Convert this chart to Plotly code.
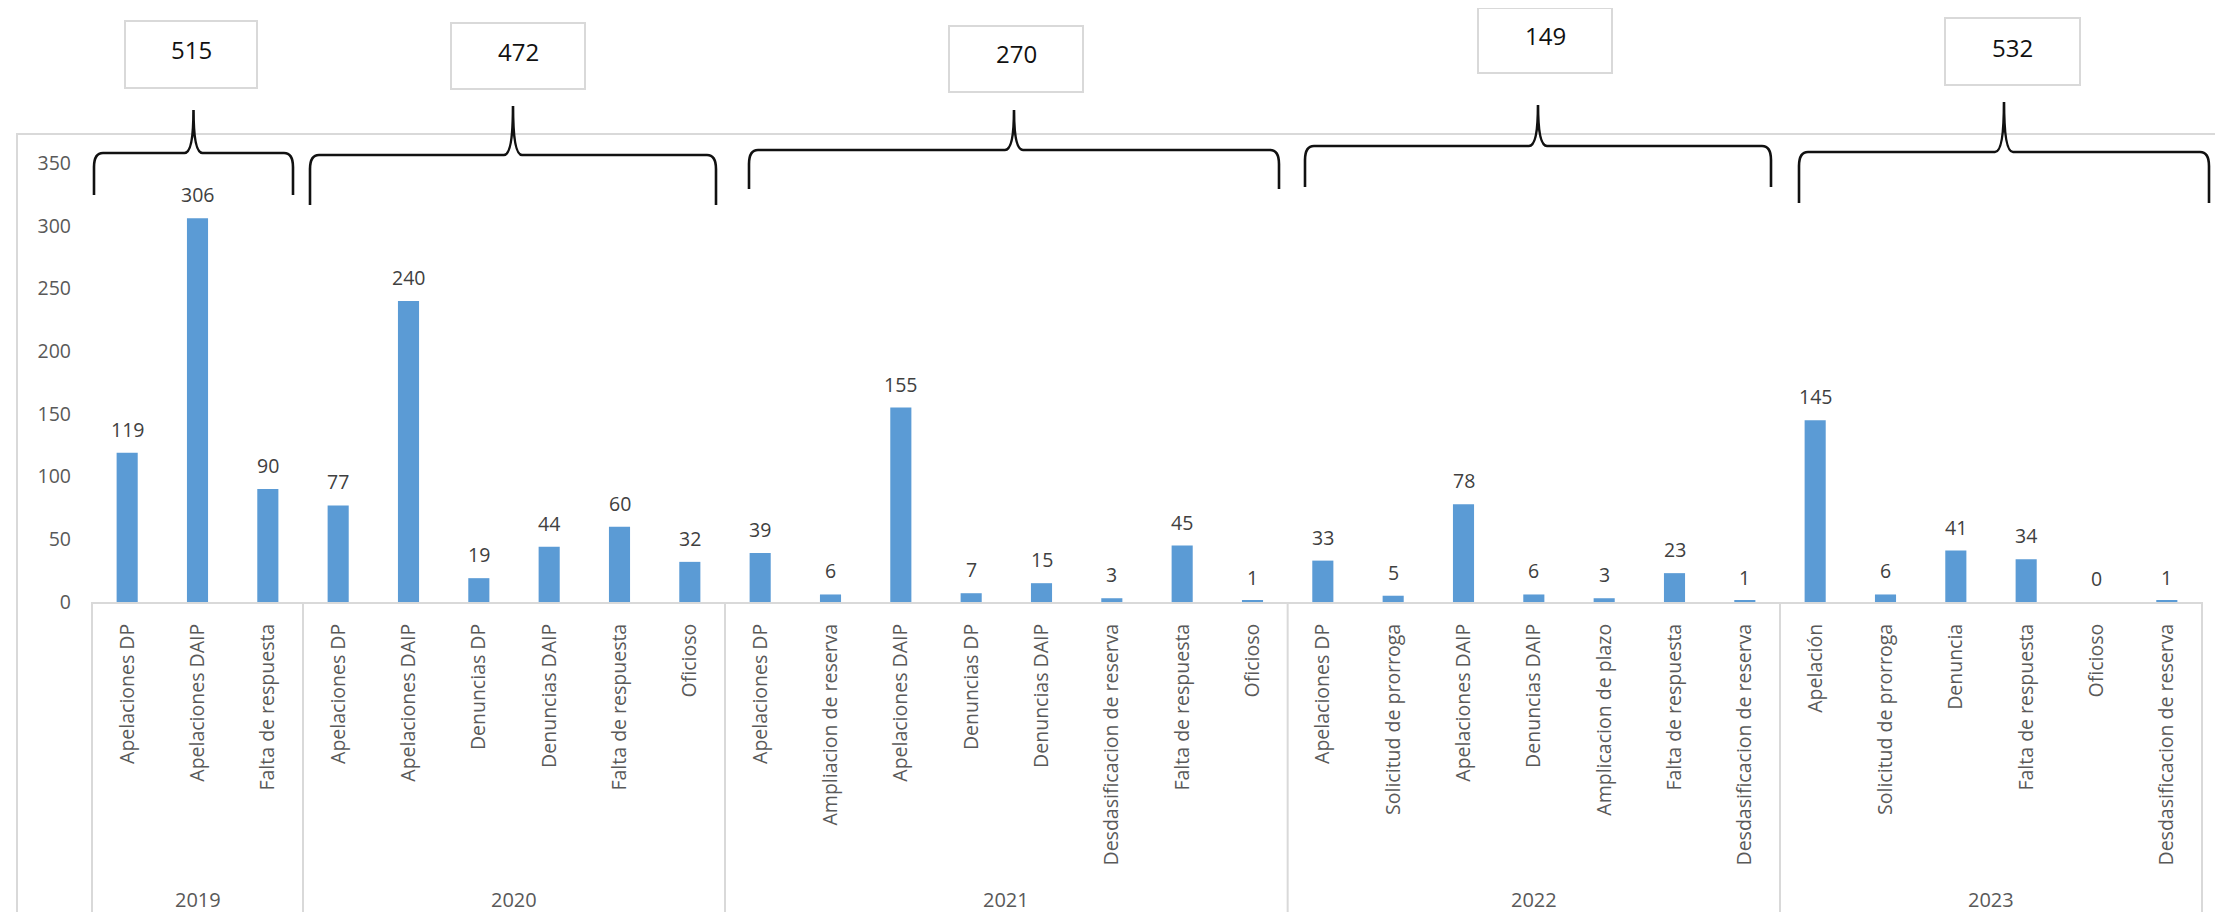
import plotly.graph_objects as go

# ---------------- data ----------------
years = ["2019", "2020", "2021", "2022", "2023"]
cats_2019 = ["Apelaciones DP", "Apelaciones DAIP", "Falta de respuesta"]
vals_2019 = [119, 306, 90]
cats_2020 = ["Apelaciones DP", "Apelaciones DAIP", "Denuncias DP", "Denuncias DAIP",
             "Falta de respuesta", "Oficioso"]
vals_2020 = [77, 240, 19, 44, 60, 32]
cats_2021 = ["Apelaciones DP", "Ampliacion de reserva", "Apelaciones DAIP", "Denuncias DP",
             "Denuncias DAIP", "Desdasificacion de reserva", "Falta de respuesta", "Oficioso"]
vals_2021 = [39, 6, 155, 7, 15, 3, 45, 1]
cats_2022 = ["Apelaciones DP", "Solicitud de prorroga", "Apelaciones DAIP", "Denuncias DAIP",
             "Amplicacion de plazo", "Falta de respuesta", "Desdasificacion de reserva"]
vals_2022 = [33, 5, 78, 6, 3, 23, 1]
cats_2023 = ["Apelación", "Solicitud de prorroga", "Denuncia", "Falta de respuesta",
             "Oficioso", "Desdasificacion de reserva"]
vals_2023 = [145, 6, 41, 34, 0, 1]
totals = [515, 472, 270, 149, 532]
y_ticks = [0, 50, 100, 150, 200, 250, 300, 350]

groups = [cats_2019, cats_2020, cats_2021, cats_2022, cats_2023]
group_vals = [vals_2019, vals_2020, vals_2021, vals_2022, vals_2023]

cats = [c for g in groups for c in g]
vals = [v for g in group_vals for v in g]
xs = list(range(len(cats)))

# ---------------- layout geometry (page pixels) ----------------
PAGE_W, PAGE_H = 2223, 920
BODY = 8                       # default body margin of the html page
W, H = PAGE_W - 2 * BODY, PAGE_H - 2 * BODY
PLOT_X0, PLOT_X1 = 92, 2202     # plot area in page pixels
PLOT_Y0, PLOT_Y1 = 163, 602
L = PLOT_X0 - BODY
T = PLOT_Y0 - BODY
R = BODY + W - PLOT_X1
B = BODY + H - PLOT_Y1
PW, PH = PLOT_X1 - PLOT_X0, PLOT_Y1 - PLOT_Y0
N = len(cats)


def X(px):
    return (px - PLOT_X0) / PW


def Y(py):
    return (PLOT_Y1 - py) / PH


# decorations: brace extents and total boxes (page pixel positions)
braces = [  # x0, x1, y_horizontal, y_top, y_bottom
    (94, 293, 153, 110, 195),
    (310, 716, 155, 106, 205),
    (749, 1279, 150, 110, 189),
    (1305, 1771, 146, 105, 187),
    (1799, 2209, 152, 102, 203),
]
boxes = [  # x0, x1, y0, y1, text_center_y
    (125, 257, 21, 88, 50),
    (451, 585, 23, 89, 52),
    (949, 1083, 26, 92, 54),
    (1478, 1612, 8, 73, 36),
    (1945, 2080, 18, 85, 47),
]

BAR = "#5b9bd5"
GRAY_TXT = "#595959"
LINE = "#d9d9d9"
FONT = "Open Sans"

fig = go.Figure()
fig.add_trace(go.Bar(x=xs, y=vals, marker=dict(color=BAR, line=dict(width=0)),
                     width=0.3, hoverinfo="skip"))

shapes = []
annotations = []

# outer chart frame
shapes.append(dict(type="rect", xref="paper", yref="paper",
                   x0=X(17), x1=X(2260), y0=Y(919), y1=Y(134),
                   line=dict(color=LINE, width=2), layer="below"))

# group dividers
b = 0
bounds = [0]
for g in groups:
    b += len(g)
    bounds.append(b)
for bd in bounds:
    shapes.append(dict(type="line", xref="paper", yref="paper",
                       x0=bd / N, x1=bd / N, y0=0, y1=Y(913),
                       line=dict(color=LINE, width=2)))

# year labels
for i, yr in enumerate(years):
    cx = (bounds[i] + bounds[i + 1]) / 2 / N
    annotations.append(dict(x=cx, y=Y(899), xref="paper", yref="paper", text=yr,
                            showarrow=False, xanchor="center", yanchor="middle",
                            font=dict(family=FONT, size=20, color=GRAY_TXT)))

# data labels
for x, v in zip(xs, vals):
    annotations.append(dict(x=x, y=v, xref="x", yref="y", text=str(v), showarrow=False,
                            xanchor="center", yanchor="bottom", yshift=8,
                            font=dict(family=FONT, size=19.5, color="#404040")))

# braces
for (x0, x1, yh, yt, yb) in braces:
    xc = (x0 + x1) / 2
    r, c = 9, 9
    p = (f"M {X(x0)},{Y(yb)} L {X(x0)},{Y(yh + 14)} "
         f"Q {X(x0)},{Y(yh)} {X(x0 + r)},{Y(yh)} "
         f"L {X(xc - c)},{Y(yh)} Q {X(xc)},{Y(yh)} {X(xc)},{Y(yt)} "
         f"Q {X(xc)},{Y(yh)} {X(xc + c)},{Y(yh)} "
         f"L {X(x1 - r)},{Y(yh)} Q {X(x1)},{Y(yh)} {X(x1)},{Y(yh + 14)} "
         f"L {X(x1)},{Y(yb)}")
    shapes.append(dict(type="path", xref="paper", yref="paper", path=p,
                       line=dict(color="#111111", width=2.6)))

# total boxes
for (x0, x1, y0, y1, ty), tot in zip(boxes, totals):
    shapes.append(dict(type="rect", xref="paper", yref="paper",
                       x0=X(x0), x1=X(x1), y0=Y(y1), y1=Y(y0),
                       line=dict(color=LINE, width=2), fillcolor="white"))
    annotations.append(dict(x=X((x0 + x1) / 2), y=Y(ty), xref="paper", yref="paper",
                            text=str(tot), showarrow=False, xanchor="center",
                            yanchor="middle",
                            font=dict(family=FONT, size=24, color="#111111")))

fig.update_layout(
    width=W, height=H,
    margin=dict(l=L, r=R, t=T, b=B, autoexpand=False),
    paper_bgcolor="white", plot_bgcolor="white",
    showlegend=False, bargap=0.7,
    shapes=shapes, annotations=annotations,
    font=dict(family=FONT, color=GRAY_TXT),
)
fig.update_xaxes(
    range=[-0.5, N - 0.5], tickmode="array", tickvals=xs, ticktext=cats,
    tickangle=-90, showgrid=False, zeroline=False, showline=True,
    linecolor=LINE, linewidth=2, ticks="", ticklabelstandoff=12,
    tickfont=dict(family=FONT, size=19.5, color=GRAY_TXT), automargin=False,
)
fig.update_yaxes(
    range=[0, 350], tickmode="array", tickvals=y_ticks, showgrid=False,
    zeroline=False, showline=False, ticks="", ticklabelstandoff=20,
    tickfont=dict(family=FONT, size=19.5, color=GRAY_TXT), automargin=False,
)

fig.write_html("out.html")
